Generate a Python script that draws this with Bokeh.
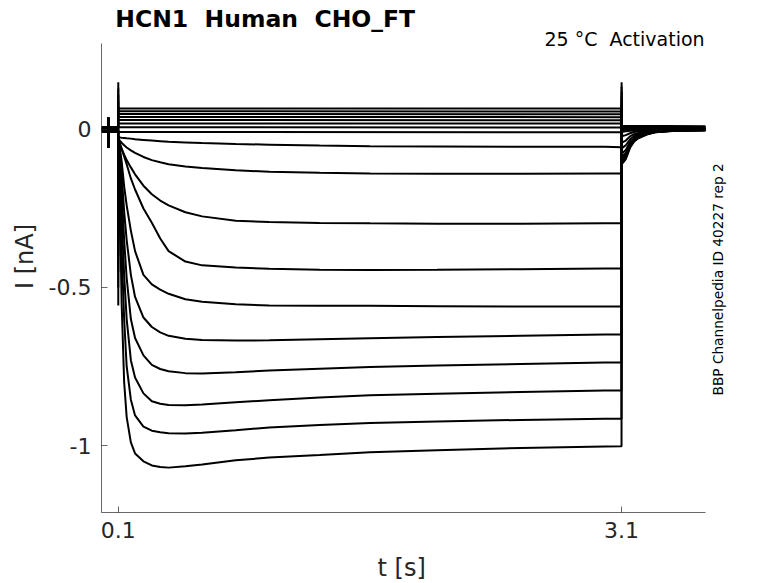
from bokeh.plotting import figure
from bokeh.models import Range1d, FixedTicker, Label, Title, CustomJSTickFormatter, ColumnDataSource
from bokeh.embed import file_html
from bokeh.resources import INLINE

FONT = "DejaVu Sans"
INK = "#262626"
NB = "\u00a0 "   # double space that survives SVG white-space collapsing

# ---------------- data ----------------
# time grids [s]
t_base = [0.0, 0.0395, 0.040, 0.0405, 0.041, 0.0995]
t_on = 0.1
t_off = 3.1
t_step = [0.1005, 0.105, 0.11, 0.12, 0.135, 0.15, 0.175, 0.2, 0.25, 0.3, 0.35,
          0.4, 0.5, 0.6, 0.8, 1.0, 1.3, 1.6, 2.0, 2.5, 3.0, 3.0995]
t_tail = [3.1005, 3.11, 3.125, 3.15, 3.175, 3.2, 3.25, 3.3, 3.4, 3.6]
t_flat = [0.1005, 3.0995]
t_flat_tail = [3.1005, 3.6]

# artefact before the pulse [nA]
artifact = [0.038, -0.057]

# activating sweeps (currents in nA on t_step)
step_1 = [-0.05, -0.10, -0.25, -0.55, -0.80, -0.91, -0.99, -1.025, -1.05, -1.063, -1.068,
          -1.07, -1.066, -1.06, -1.047, -1.038, -1.03, -1.021, -1.015, -1.008, -1.003, -1.002]
step_2 = [-0.045, -0.08, -0.17, -0.38, -0.60, -0.75, -0.855, -0.905, -0.94, -0.953, -0.958,
          -0.961, -0.962, -0.96, -0.952, -0.943, -0.935, -0.929, -0.924, -0.919, -0.915, -0.915]
step_3 = [-0.04, -0.065, -0.12, -0.27, -0.46, -0.60, -0.73, -0.785, -0.835, -0.86, -0.868,
          -0.872, -0.873, -0.87, -0.863, -0.857, -0.848, -0.841, -0.836, -0.831, -0.826, -0.826]
step_4 = [-0.035, -0.055, -0.09, -0.19, -0.35, -0.47, -0.60, -0.66, -0.715, -0.745, -0.758,
          -0.765, -0.771, -0.772, -0.768, -0.763, -0.757, -0.752, -0.747, -0.742, -0.737, -0.737]
step_5 = [-0.035, -0.05, -0.075, -0.14, -0.26, -0.35, -0.46, -0.53, -0.595, -0.625, -0.642,
          -0.653, -0.662, -0.666, -0.668, -0.667, -0.664, -0.661, -0.657, -0.653, -0.649, -0.649]
step_6 = [-0.03, -0.045, -0.06, -0.10, -0.18, -0.24, -0.32, -0.385, -0.46, -0.49, -0.507,
          -0.52, -0.537, -0.545, -0.553, -0.557, -0.558, -0.558, -0.559, -0.56, -0.56, -0.56]
step_7 = [-0.03, -0.035, -0.045, -0.06, -0.085, -0.11, -0.155, -0.19, -0.25, -0.295, -0.345,
          -0.385, -0.418, -0.43, -0.437, -0.441, -0.444, -0.445, -0.444, -0.442, -0.44, -0.44]
step_8 = [-0.03, -0.04, -0.05, -0.062, -0.08, -0.097, -0.12, -0.142, -0.178, -0.205, -0.225,
          -0.24, -0.262, -0.275, -0.289, -0.293, -0.296, -0.297, -0.298, -0.298, -0.297, -0.297]
step_9 = [-0.028, -0.032, -0.036, -0.042, -0.05, -0.057, -0.066, -0.074, -0.087, -0.097, -0.104,
          -0.11, -0.117, -0.122, -0.129, -0.134, -0.137, -0.139, -0.14, -0.14, -0.139, -0.139]
step_10 = [-0.022, -0.024, -0.025, -0.026, -0.027, -0.028, -0.029, -0.031, -0.033, -0.035, -0.037,
           -0.039, -0.041, -0.043, -0.046, -0.048, -0.051, -0.053, -0.054, -0.055, -0.055, -0.056]

# tail currents after the pulse (nA on t_tail)
tail_1 = [-0.11, -0.104, -0.094, -0.058, -0.038, -0.028, -0.016, -0.009, -0.005, -0.002]
tail_2 = [-0.105, -0.099, -0.089, -0.055, -0.036, -0.026, -0.015, -0.009, -0.005, -0.002]
tail_3 = [-0.10, -0.094, -0.084, -0.052, -0.034, -0.025, -0.014, -0.008, -0.004, -0.002]
tail_4 = [-0.094, -0.088, -0.079, -0.049, -0.032, -0.024, -0.013, -0.008, -0.004, -0.002]
tail_5 = [-0.088, -0.082, -0.074, -0.046, -0.030, -0.022, -0.012, -0.007, -0.004, -0.002]
tail_6 = [-0.077, -0.072, -0.065, -0.040, -0.027, -0.019, -0.011, -0.006, -0.003, -0.001]
tail_7 = [-0.06, -0.056, -0.05, -0.032, -0.021, -0.015, -0.009, -0.005, -0.003, -0.001]
tail_8 = [-0.042, -0.039, -0.035, -0.022, -0.015, -0.011, -0.006, -0.004, -0.002, -0.001]
tail_9 = [-0.022, -0.02, -0.018, -0.012, -0.008, -0.006, -0.004, -0.002, -0.001, 0.0]
tail_10 = [-0.008, -0.007, -0.006, -0.004, -0.003, -0.002, -0.001, -0.001, 0.0, 0.0]

act_base = [-0.008, -0.007, -0.006, -0.005, -0.004, -0.003, -0.002, -0.001, 0.0, 0.001]
act_on_spike = [-0.557, -0.50, -0.45, -0.40, -0.35, -0.30, -0.25, -0.20, -0.15, -0.10]
act_off_spike = [0.149, 0.135, 0.12, 0.105, 0.09, 0.075, 0.06, 0.045, 0.03, 0.015]

# non-activating sweeps (flat), start / end of pulse level
flat_levels = [[0.066, 0.066], [0.058, 0.057], [0.049, 0.048], [0.040, 0.039],
               [0.030, 0.029], [0.019, 0.019], [0.007, 0.006], [-0.008, -0.009]]
flat_tails = [[0.012, 0.010], [0.010, 0.008], [0.008, 0.006], [0.006, 0.004],
              [0.004, 0.002], [0.002, 0.0], [0.0, -0.002], [-0.002, -0.004]]
flat_base = [0.008, 0.007, 0.006, 0.004, 0.003, 0.002, 0.001, 0.0]
flat_on_spike = [0.149, 0.13, 0.11, 0.09, 0.07, 0.05, 0.03, 0.01]
flat_off_spike = [-0.10, -0.085, -0.07, -0.055, -0.04, -0.03, -0.02, -0.01]

x_ticks = [0.1, 3.1]
y_ticks = [-1, -0.5, 0]
x_axis_span = (0.0, 3.6)
y_axis_span = (-1.212, 0.272)

# ---------------- assemble sweeps ----------------
steps = [step_1, step_2, step_3, step_4, step_5, step_6, step_7, step_8, step_9, step_10]
tails = [tail_1, tail_2, tail_3, tail_4, tail_5, tail_6, tail_7, tail_8, tail_9, tail_10]

xs, ys = [], []
for k in range(len(steps)):
    b = act_base[k]
    xs.append(t_base + [t_on] + t_step + [t_off] + t_tail)
    ys.append([b, b, artifact[0], artifact[1], b, b] + [act_on_spike[k]] + steps[k]
              + [act_off_spike[k]] + tails[k])
for k in range(len(flat_levels)):
    b = flat_base[k]
    xs.append(t_base + [t_on] + t_flat + [t_off] + t_flat_tail)
    ys.append([b, b, artifact[0], artifact[1], b, b] + [flat_on_spike[k]] + flat_levels[k]
              + [flat_off_spike[k]] + flat_tails[k])

src = ColumnDataSource(data=dict(xs=xs, ys=ys))

# ---------------- figure ----------------
# frame spans to the top/right canvas edges so the texts there are not clipped;
# the axes are limited to their spans with "bounds"
W, H = 778, 583
left, bottom = 101, 71
px_per_s = (W - left - 73) / (x_axis_span[1] - x_axis_span[0])
px_per_nA = (H - bottom - 43) / (y_axis_span[1] - y_axis_span[0])
x_end = x_axis_span[1] + 73 / px_per_s
y_end = y_axis_span[1] + 43 / px_per_nA

p = figure(width=W, height=H, output_backend="svg", toolbar_location=None,
           x_range=Range1d(x_axis_span[0], x_end), y_range=Range1d(y_axis_span[0], y_end),
           min_border_left=left, min_border_right=0, min_border_top=0, min_border_bottom=bottom)
p.title.visible = False
p.outline_line_color = None
p.grid.visible = False
p.background_fill_color = "white"
p.border_fill_color = "white"

p.multi_line(xs="xs", ys="ys", source=src, line_color="black", line_width=2.0)

fmt = CustomJSTickFormatter(code="return tick.toString();")
for ax in (p.xaxis[0], p.yaxis[0]):
    ax.formatter = fmt
    ax.axis_line_color = INK
    ax.axis_line_width = 0.7
    ax.major_tick_line_color = INK
    ax.major_tick_line_width = 0.7
    ax.major_tick_in = 6
    ax.major_tick_out = 0
    ax.minor_tick_line_color = None
    ax.major_label_text_font = FONT
    ax.major_label_text_font_size = "22px"
    ax.major_label_text_color = INK
    ax.axis_label_text_font = FONT
    ax.axis_label_text_font_size = "24px"
    ax.axis_label_text_font_style = "normal"
    ax.axis_label_text_color = INK
p.xaxis.bounds = x_axis_span
p.yaxis.bounds = y_axis_span
p.xaxis.ticker = FixedTicker(ticks=x_ticks)
p.yaxis.ticker = FixedTicker(ticks=y_ticks)
p.xaxis.major_label_standoff = 9
p.yaxis.major_label_standoff = 10
p.yaxis.axis_label = "I [nA]"
p.yaxis.axis_label_standoff = 7

# small spacer under the tick labels, then the x axis label as a title,
# started where the axis span centres it
p.add_layout(Title(text=" ", text_font_size="1px", standoff=6, text_color="white"), "below")
p.add_layout(Title(text="t [s]", align="left", offset=276, text_font=FONT,
                   text_font_size="24px", text_font_style="normal", text_color=INK,
                   vertical_align="bottom", standoff=4), "below")

# texts placed in data units (positions)
p.add_layout(Label(x=0.082, y=0.348, text="HCN1" + NB + "Human" + NB + "CHO_FT", text_font=FONT,
                   text_font_size="23.5px", text_font_style="bold", text_color="black",
                   text_align="left", text_baseline="alphabetic"))
p.add_layout(Label(x=2.640, y=0.2848, text="25 °C" + NB + "Activation", text_font=FONT,
                   text_font_size="19px", text_color="black",
                   text_align="left", text_baseline="alphabetic"))
p.add_layout(Label(x=3.675, y=-0.8418, text="BBP Channelpedia ID 40227 rep 2", text_font=FONT,
                   text_font_size="13.7px", text_color="black", angle=1.5708,
                   text_align="left", text_baseline="middle"))

open("out.html", "w").write(file_html(p, INLINE))
